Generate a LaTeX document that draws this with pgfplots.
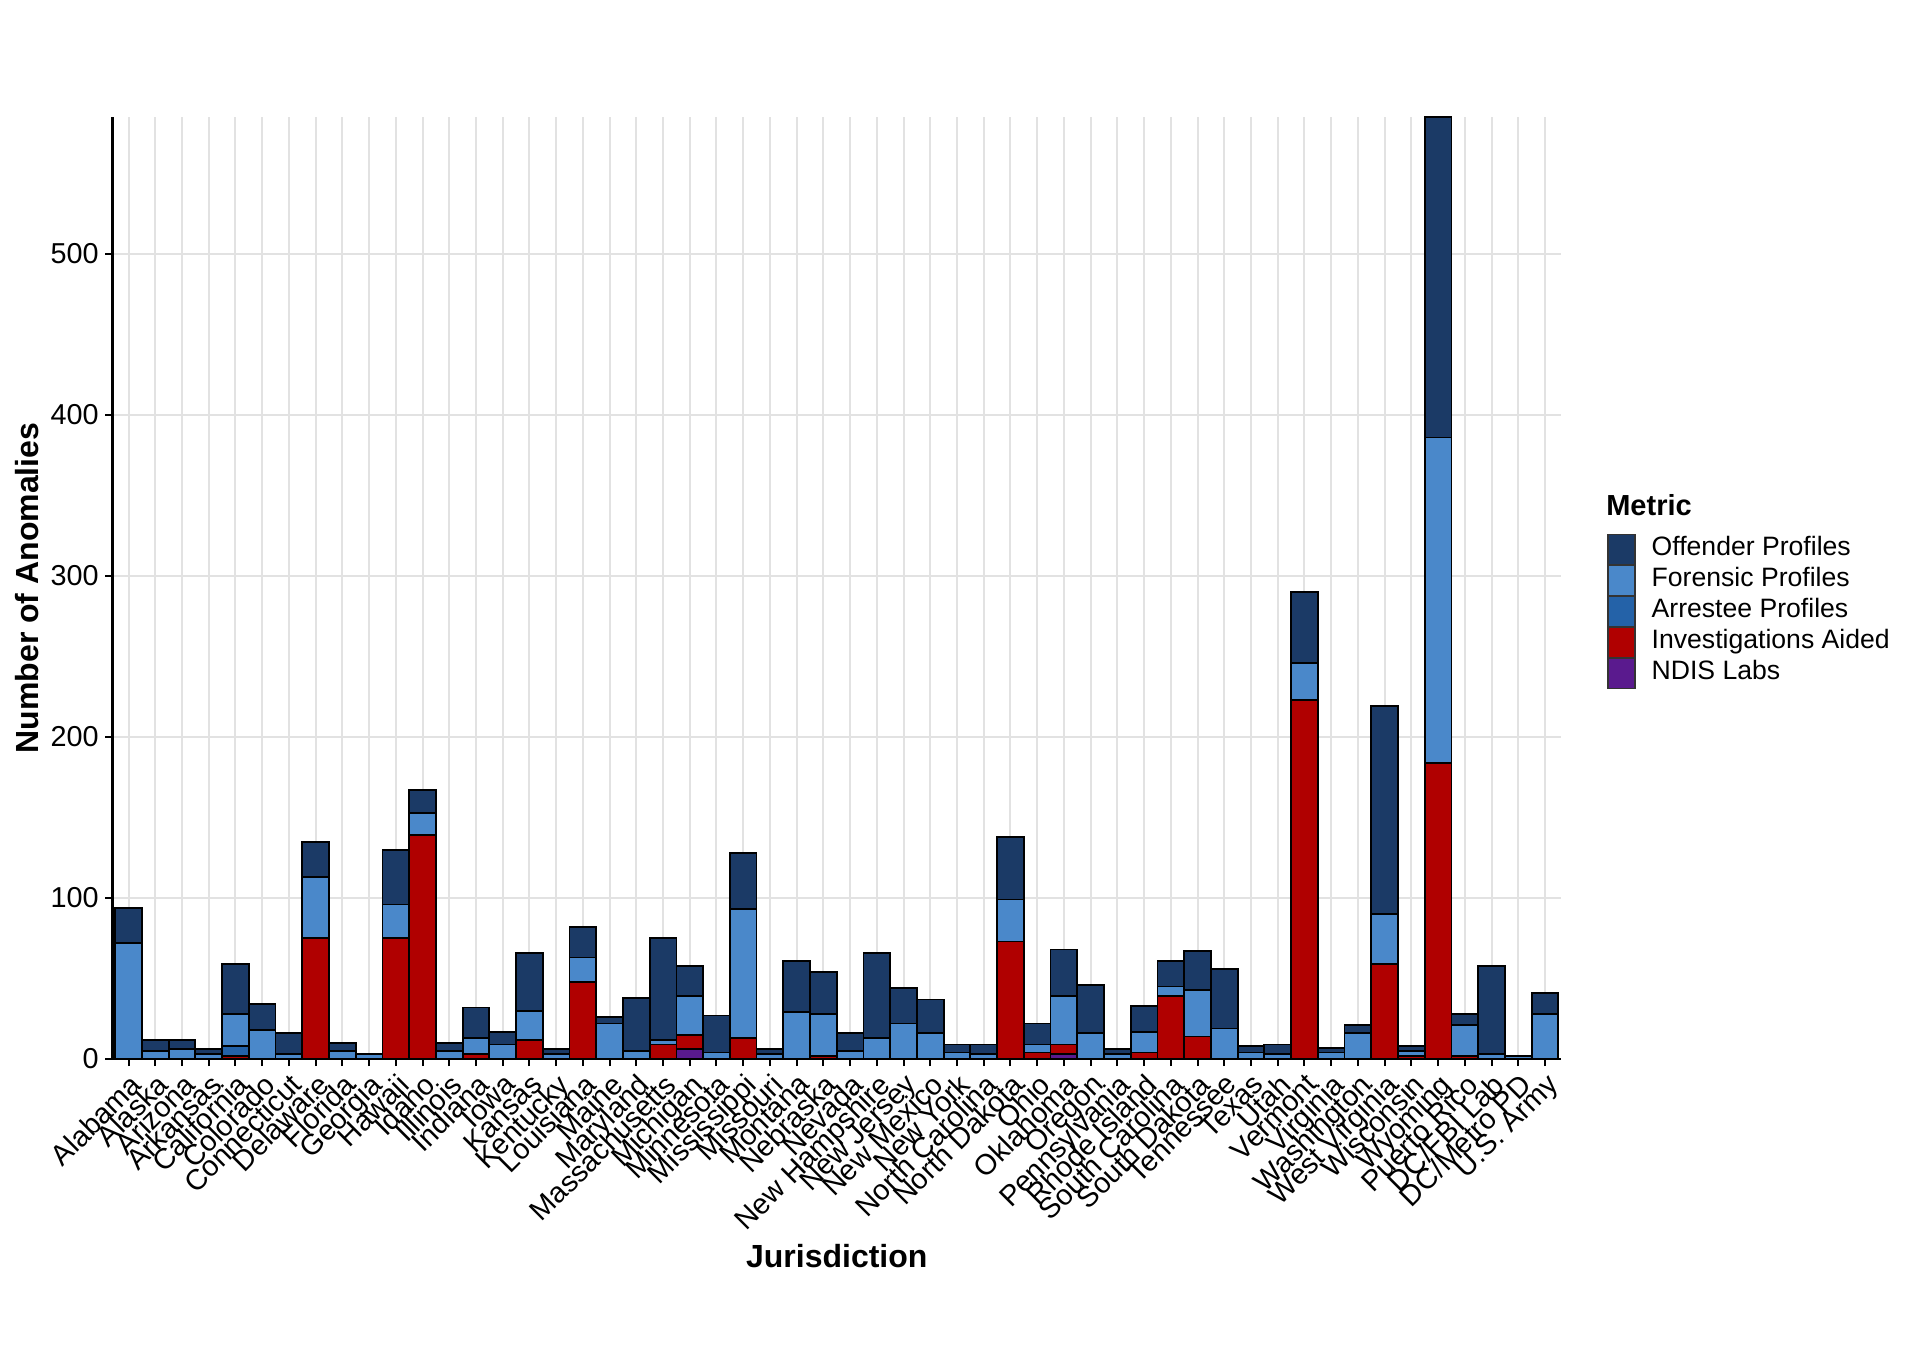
\documentclass[border=0pt]{standalone}
\usepackage{fontspec}
\setmainfont{Liberation Sans}
\usepackage{pgfplots}
\pgfplotsset{compat=1.18}
\usepackage{pgfplotstable}

\definecolor{offc}{HTML}{1B3A66}
\definecolor{forc}{HTML}{4A88CA}
\definecolor{arrc}{HTML}{2462A8}
\definecolor{invc}{HTML}{B00000}
\definecolor{ndisc}{HTML}{5A1A8E}
\definecolor{gridc}{HTML}{E2E2E2}

% x ndis inv arr fore off
\pgfplotstableread{
x  ndis inv arr fore off
0  0 0   0 72  22
1  0 0   0 5   7
2  0 0   0 6   6
3  0 0   0 3   3
4  0 2   6 20  31
5  0 0   0 18  16
6  0 0   0 3   13
7  0 75  0 38  22
8  0 0   0 5   5
9  0 0   0 3   0
10 0 75  0 21  34
11 0 139 0 14  14
12 0 0   0 5   5
13 0 3   0 10  19
14 0 0   0 9   8
15 0 12  0 18  36
16 0 0   0 3   3
17 0 48  0 15  19
18 0 0   0 22  4
19 0 0   0 5   33
20 0 9   0 3   63
21 6 9   0 24  19
22 0 0   0 4   23
23 0 13  0 80  35
24 0 0   0 3   3
25 0 0   0 29  32
26 0 2   0 26  26
27 0 0   0 5   11
28 0 0   0 13  53
29 0 0   0 22  22
30 0 0   0 16  21
31 0 0   0 4   5
32 0 0   0 3   6
33 0 73  0 26  39
34 0 4   0 5   13
35 3 6   0 30  29
36 0 0   0 16  30
37 0 0   0 3   3
38 0 4   0 13  16
39 0 39  0 6   16
40 0 14  0 29  24
41 0 0   0 19  37
42 0 0   0 4   4
43 0 0   0 3   6
44 0 223 0 23  44
45 0 0   0 4   3
46 0 0   0 16  5
47 0 59  0 31  129
48 0 2   0 3   3
49 0 184 0 202 199
50 0 2   0 19  7
51 0 0   0 3   55
52 0 0   0 2   0
53 0 0   0 28  13
}\anom

\begin{document}
\begin{tikzpicture}
\useasboundingbox (0,0) rectangle (960pt,672pt);
\begin{axis}[
  at={(56.25pt,142.5pt)}, anchor=south west,
  scale only axis, width=724.25pt, height=471pt,
  clip=false,
  ybar stacked, bar width=1,
  xmin=-0.6, xmax=53.6, ymin=0, ymax=585,
  xtick={0,...,53},
  xticklabels={Alabama,Alaska,Arizona,Arkansas,California,Colorado,Connecticut,Delaware,Florida,Georgia,Hawaii,Idaho,Illinois,Indiana,Iowa,Kansas,Kentucky,Louisiana,Maine,Maryland,Massachusetts,Michigan,Minnesota,Mississippi,Missouri,Montana,Nebraska,Nevada,New Hampshire,New Jersey,New Mexico,New York,North Carolina,North Dakota,Ohio,Oklahoma,Oregon,Pennsylvania,Rhode Island,South Carolina,South Dakota,Tennessee,Texas,Utah,Vermont,Virginia,Washington,West Virginia,Wisconsin,Wyoming,Puerto Rico,DC/FBI Lab,DC/Metro PD,U.S. Army},
  ytick={0,100,...,500},
  axis lines*=left,
  axis line style={-, line width=1.1pt, black},
  grid=major, major grid style={gridc, line width=1pt},
  tick align=outside, major tick length=3.5pt,
  tick style={black, line width=1pt},
  /pgf/number format/assume math mode=true,
  yticklabel style={font=\fontsize{14.4}{16}\selectfont, inner xsep=3.2pt},
  xticklabel style={font=\fontsize{14.4}{16}\selectfont, rotate=45, anchor=north east, inner sep=2pt},
  xlabel={Jurisdiction}, ylabel={Number of Anomalies},
  label style={font=\fontsize{16}{19}\selectfont\bfseries},
  xlabel style={at={(axis description cs:0.5,-0.209)}, anchor=center},
  ylabel style={at={(axis description cs:-0.059,0.5)}, anchor=center},
  every axis plot/.append style={draw=black, line width=0.9pt},
  reverse legend, legend cell align=left,
  legend image code/.code={\draw[#1, draw=black!80, line width=0.6pt] (0pt,-7.47pt) rectangle (13.5pt,7.47pt);},
  legend style={at={(1.0318,0.475)}, anchor=west, draw=none, fill=none,
    inner sep=0pt, row sep=0pt, column sep=8pt,
    font=\fontsize{13.3}{15}\selectfont,
    nodes={inner sep=0pt, text height=10.5pt, text depth=4.45pt}},
]
\addplot[fill=ndisc] table[x=x, y=ndis] {\anom};
\addlegendentry{NDIS Labs}
\addplot[fill=invc] table[x=x, y=inv] {\anom};
\addlegendentry{Investigations Aided}
\addplot[fill=arrc] table[x=x, y=arr] {\anom};
\addlegendentry{Arrestee Profiles}
\addplot[fill=forc] table[x=x, y=fore] {\anom};
\addlegendentry{Forensic Profiles}
\addplot[fill=offc] table[x=x, y=off] {\anom};
\addlegendentry{Offender Profiles}
\node[anchor=west, inner sep=0pt, font=\fontsize{14.5}{17}\selectfont\bfseries] at (rel axis cs:1.031,0.588) {Metric};
\end{axis}
\end{tikzpicture}
\end{document}
